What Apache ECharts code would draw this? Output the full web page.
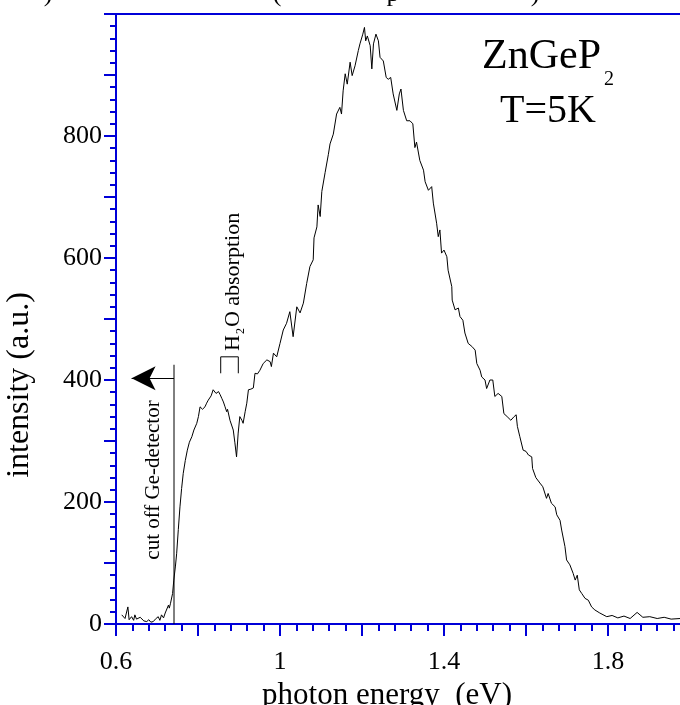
<!DOCTYPE html>
<html><head><meta charset="utf-8">
<script src="https://cdn.jsdelivr.net/npm/echarts@6/dist/echarts.min.js"></script>
<style>html,body{margin:0;padding:0;background:#fff}#c{width:680px;height:705px}</style>
</head><body><div id="c"></div>
<script>
// ---- data ----
const energy = [0.614,0.622,0.629,0.632,0.638,0.643,0.646,0.650,0.654,0.659,0.663,0.668,0.675,0.680,0.685,0.691,0.696,0.703,0.707,0.711,0.716,0.720,0.728,0.730,0.733,0.738,0.741,0.745,0.748,0.752,0.756,0.760,0.764,0.769,0.774,0.779,0.785,0.790,0.797,0.801,0.805,0.811,0.817,0.821,0.825,0.832,0.837,0.844,0.850,0.854,0.858,0.862,0.866,0.870,0.872,0.878,0.886,0.890,0.894,0.898,0.902,0.907,0.910,0.915,0.919,0.923,0.929,0.935,0.939,0.945,0.951,0.959,0.968,0.976,0.979,0.984,0.992,1.000,1.008,1.016,1.024,1.032,1.041,1.049,1.057,1.065,1.073,1.081,1.083,1.090,1.093,1.098,1.102,1.110,1.118,1.122,1.130,1.138,1.146,1.150,1.154,1.159,1.164,1.171,1.176,1.183,1.191,1.195,1.202,1.206,1.209,1.213,1.220,1.224,1.228,1.234,1.240,1.244,1.252,1.259,1.264,1.270,1.276,1.285,1.291,1.295,1.301,1.309,1.317,1.324,1.329,1.333,1.341,1.350,1.354,1.362,1.370,1.374,1.382,1.386,1.390,1.394,1.400,1.407,1.410,1.419,1.420,1.427,1.435,1.439,1.446,1.451,1.459,1.468,1.476,1.480,1.488,1.492,1.500,1.504,1.512,1.519,1.524,1.532,1.541,1.546,1.554,1.563,1.571,1.576,1.579,1.585,1.593,1.600,1.606,1.614,1.616,1.624,1.634,1.641,1.650,1.654,1.662,1.671,1.675,1.679,1.683,1.687,1.691,1.695,1.699,1.707,1.715,1.720,1.725,1.730,1.736,1.744,1.752,1.760,1.768,1.780,1.797,1.810,1.824,1.839,1.854,1.871,1.885,1.902,1.920,1.937,1.954,1.976,1.995];
const intensity = [15,9,28,7,12,6,15,8,7,11,8,5,4,7,3,4,8,12,6,15,10,18,31,26,34,50,72,95,116,155,192,222,247,268,285,298,307,318,329,340,356,352,356,362,367,374,384,378,381,376,370,364,356,348,352,334,318,297,274,313,340,334,329,348,362,384,385,387,411,410,416,427,433,430,422,444,438,460,482,493,512,471,520,510,526,558,586,597,633,651,687,668,709,740,770,787,803,836,847,836,874,902,885,921,899,915,940,951,967,978,956,964,948,910,951,967,956,929,923,896,893,896,869,842,869,877,842,825,825,820,781,790,760,744,725,711,717,690,657,635,646,608,613,602,580,553,531,515,518,504,498,477,460,455,449,427,416,405,400,386,400,400,373,378,373,345,340,334,340,343,324,307,285,283,277,274,255,240,231,225,206,214,198,192,179,181,170,154,154,127,105,97,83,72,80,56,50,42,39,28,23,18,12,14,10,13,9,19,11,12,9,11,8,9,10];
const xLabelValues = [0.6, 1.0, 1.4, 1.8];
const yLabelValues = [0, 200, 400, 600, 800];
const cutoffEnergy = 0.7415;
const cutoffTop = 425;
const arrowLevel = 403;
const arrowTip = 0.638;
const bracketE = [0.8554, 0.8983];
const bracketI = [411, 438];

const BLUE = '#0000d8';
const FONT = 'Liberation Serif';
const chart = echarts.init(document.getElementById('c'), null, {renderer: 'canvas'});

const ctx = document.createElement('canvas').getContext('2d');
function tw(t, size) { ctx.font = size + 'px "' + FONT + '"'; return ctx.measureText(t).width; }

const txt = (o) => Object.assign({fill: '#000', fontFamily: FONT}, o);

const hs = 22, subS = 12;
const wH = tw('H', hs), w2 = tw('2', subS);
const zs = 42, wZ = tw('ZnGeP', zs);

chart.setOption({
  animation: false,
  grid: {left: 116, top: 14, right: -10, bottom: 81, outerBoundsMode: 'none'},
  xAxis: [{
    type: 'value', min: 0.6, max: 2.0, interval: 0.2, position: 'bottom',
    axisLine: {show: true, onZero: false, lineStyle: {color: BLUE, width: 2}},
    axisTick: {show: true, length: 12, lineStyle: {color: BLUE, width: 2}},
    minorTick: {show: true, splitNumber: 5, length: 7, lineStyle: {color: BLUE, width: 2}},
    splitLine: {show: false},
    axisLabel: {margin: 25, color: '#000', fontFamily: FONT, fontSize: 26,
      formatter: v => { const r = Math.round(v * 10) / 10; return xLabelValues.some(a => Math.abs(a - v) < 1e-6) ? String(r) : ''; }},
    name: 'photon energy  (eV)', nameLocation: 'middle', nameGap: 52,
    nameTextStyle: {color: '#000', fontFamily: FONT, fontSize: 31, padding: [0, 32, 0, 0]}
  }, {
    type: 'value', min: 0.6, max: 2.0, position: 'top',
    axisLine: {show: true, onZero: false, lineStyle: {color: BLUE, width: 2}},
    axisTick: {show: false}, axisLabel: {show: false}, splitLine: {show: false}
  }],
  yAxis: [{
    type: 'value', min: 0, max: 1000, interval: 100, position: 'left',
    axisLine: {show: true, onZero: false, lineStyle: {color: BLUE, width: 2}},
    axisTick: {show: true, length: 12, lineStyle: {color: BLUE, width: 2}},
    minorTick: {show: true, splitNumber: 5, length: 6, lineStyle: {color: BLUE, width: 2}},
    splitLine: {show: false},
    axisLabel: {margin: 14, color: '#000', fontFamily: FONT, fontSize: 26,
      formatter: v => yLabelValues.includes(v) ? String(v) : ''},
    name: 'intensity (a.u.)', nameLocation: 'middle', nameGap: 80, nameRotate: 90,
    nameTextStyle: {color: '#000', fontFamily: FONT, fontSize: 32, padding: [0, 132, 0, 0]}
  }],
  series: [{
    type: 'line', name: 'PL', data: energy.map((e, i) => [e, intensity[i]]),
    showSymbol: false, lineStyle: {color: '#000', width: 1}, z: 3, clip: true
  }, {
    type: 'line', name: 'cutoff', data: [[cutoffEnergy, 0], [cutoffEnergy, cutoffTop]],
    showSymbol: false, lineStyle: {color: '#000', width: 1}, z: 3,
    markLine: {
      silent: true, symbol: ['none', 'arrow'], symbolSize: [18, 24],
      label: {show: false}, lineStyle: {color: '#000', width: 1, type: 'solid'},
      itemStyle: {color: '#000'},
      data: [[{coord: [cutoffEnergy, arrowLevel]}, {coord: [arrowTip, arrowLevel]}]]
    }
  }, {
    type: 'line', name: 'bracket',
    data: [[bracketE[0], bracketI[0]], [bracketE[0], bracketI[1]], [bracketE[1], bracketI[1]], [bracketE[1], bracketI[0]]],
    showSymbol: false, lineStyle: {color: '#000', width: 1}, z: 3
  }],
  graphic: [
    {type: 'text', x: 482, y: 57, style: txt({text: 'ZnGeP', fontSize: zs, align: 'left', verticalAlign: 'middle'})},
    {type: 'text', x: 482 + wZ + 3, y: 80, style: txt({text: '2', fontSize: 20, align: 'left', verticalAlign: 'middle'})},
    {type: 'text', x: 548, y: 111, style: txt({text: 'T=5K', fontSize: 40, align: 'center', verticalAlign: 'middle'})},
    {type: 'text', x: 153, y: 480, rotation: Math.PI / 2,
      style: txt({text: 'cut off Ge-detector', fontSize: 21, align: 'center', verticalAlign: 'middle'})},
    {type: 'group', x: 233, y: 351, rotation: Math.PI / 2, children: [
      {type: 'text', x: 0, y: 0, style: txt({text: 'H', fontSize: hs, align: 'left', verticalAlign: 'middle'})},
      {type: 'text', x: wH + 1, y: 8, style: txt({text: '2', fontSize: subS, align: 'left', verticalAlign: 'middle'})},
      {type: 'text', x: wH + w2 + 2, y: 0, style: txt({text: 'O absorption', fontSize: hs, align: 'left', verticalAlign: 'middle'})}
    ]},
    // clipped fragments of a title line above the frame
    {type: 'text', x: 48, y: 7, style: txt({text: ')', fontSize: 26, align: 'center', verticalAlign: 'bottom'})},
    {type: 'text', x: 277, y: 7, style: txt({text: '(', fontSize: 26, align: 'center', verticalAlign: 'bottom'})},
    {type: 'text', x: 393, y: 7, style: txt({text: 'p', fontSize: 26, align: 'center', verticalAlign: 'bottom'})},
    {type: 'text', x: 535, y: 7, style: txt({text: ')', fontSize: 26, align: 'center', verticalAlign: 'bottom'})}
  ]
});
</script></body></html>
